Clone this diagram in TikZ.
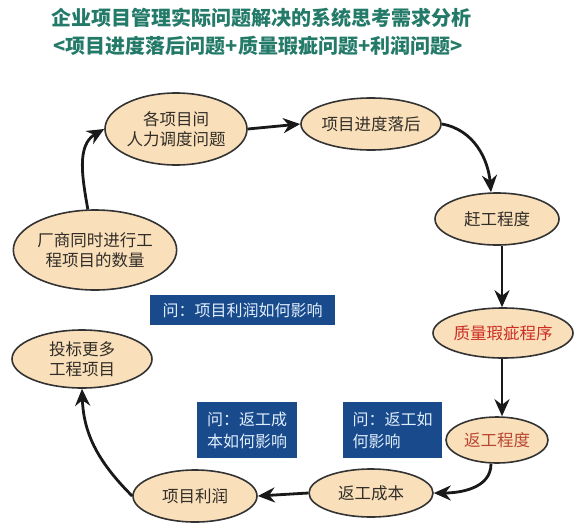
\documentclass[tikz,border=0pt]{standalone}
\usepackage{fontspec}
\setmainfont{Noto Sans CJK SC}
\usetikzlibrary{shapes.geometric,arrows.meta}
\definecolor{titlecol}{RGB}{35,122,104}
\definecolor{boxblue}{RGB}{24,74,140}
\definecolor{boxtext}{RGB}{225,238,252}
\definecolor{ellfill}{RGB}{249,224,186}
\definecolor{elltext}{RGB}{50,45,40}
\definecolor{redtext}{RGB}{205,45,35}
\definecolor{browntext}{RGB}{185,70,50}
\tikzset{
  ell/.style={ellipse, draw=black!80, line width=1.6pt, fill=ellfill, inner sep=0pt,
    text=elltext, font=\fontsize{16.5}{20}\selectfont, align=center},
  qbox/.style={rectangle, fill=boxblue, text=boxtext, inner sep=0pt,
    font=\fontsize{16}{22}\selectfont, align=left},
  flow/.style={line width=2.8pt, black!90, -{Stealth[length=17pt,width=15pt]}},
  ttl/.style={text=titlecol, font=\bfseries\fontsize{20}{24}\selectfont}
}
\begin{document}
\begin{tikzpicture}[x=1pt,y=-1pt]
\useasboundingbox (0,0) rectangle (575,528);
\fill[white] (0,0) rectangle (575,528);
\node[ttl] (t1) at (261,18) {企业项目管理实际问题解决的系统思考需求分析};
\node[ttl] (t2) at (258,46) {<项目进度落后问题+质量瑕疵问题+利润问题>};

\node[ell, minimum width=142pt, minimum height=72pt] (e1) at (176,129) {各项目间\\人力调度问题};
\node[ell, minimum width=128pt, minimum height=52pt] (e2) at (371,124) {项目进度落后};
\node[ell, minimum width=124pt, minimum height=52pt] (e3) at (497,219) {赶工程度};
\node[ell, minimum width=130pt, minimum height=50pt, text=redtext] (e4) at (503,333) {质量瑕疵程序};
\node[ell, minimum width=102pt, minimum height=46pt, text=browntext] (e5) at (497,440) {返工程度};
\node[ell, minimum width=124pt, minimum height=48pt] (e6) at (371,493) {返工成本};
\node[ell, minimum width=124pt, minimum height=52pt] (e7) at (195,496) {项目利润};
\node[ell, minimum width=140pt, minimum height=58pt] (e8) at (82,359) {投标更多\\工程项目};
\node[ell, minimum width=160pt, minimum height=80pt] (e9) at (95,250) {厂商同时进行工\\程项目的数量};

\node[qbox, minimum width=185pt, minimum height=30pt] (q1) at (242.5,310) {问：项目利润如何影响};
\node[qbox, minimum width=100pt, minimum height=56pt] (q2) at (247,430) {问：返工成\\本如何影响};
\node[qbox, minimum width=99pt, minimum height=56pt] (q3) at (392.5,430) {问：返工如\\何影响};

\draw[flow] (e1.east) -- (e2.west);
\draw[flow] (e2.east) to[out=-10,in=95] ([xshift=-6pt]e3.north);
\draw[flow] ([xshift=5pt]e3.south) -- ([xshift=5pt]e3.south |- e4.north);
\draw[flow] ([xshift=-1pt]e4.south) -- ([xshift=-1pt]e4.south |- e5.north);
\draw[flow] ([xshift=-6pt]e5.south) to[out=-90,in=0] (e6.east);
\draw[flow] (e6.west) -- (e7.east);
\draw[flow] (e7.west) to[out=135,in=-88] (e8.south);
\draw[flow] (e9.100) to[out=100,in=210] (e1.west);
\end{tikzpicture}
\end{document}
